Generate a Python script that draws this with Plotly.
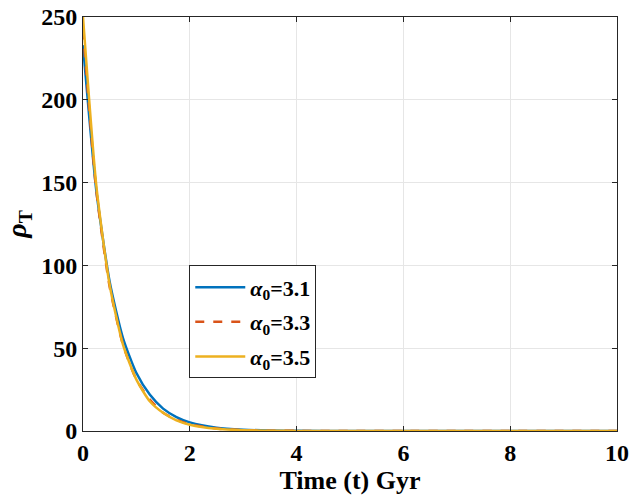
import plotly.graph_objects as go

# Total density rho_T versus cosmic time for three alpha_0 values
t = [0, 0.25, 0.5, 0.75, 1.0, 1.25, 1.5, 1.75, 2.0, 2.5, 3.0, 3.5, 4.0, 5.0, 6.0, 7.0, 8.0, 9.0, 10.0]
rho_a31 = [233, 145, 90, 56, 35, 22, 13.5, 8.4, 5.2, 2.0, 0.8, 0.3, 0.1, 0.02, 0, 0, 0, 0, 0]
rho_a33 = [242, 145, 87, 52, 31, 19, 11, 6.8, 4.0, 1.5, 0.5, 0.2, 0.07, 0.01, 0, 0, 0, 0, 0]
rho_a35 = [250, 148, 88, 52, 31, 18, 11, 6.4, 3.8, 1.3, 0.5, 0.2, 0.06, 0.01, 0, 0, 0, 0, 0]
labels = ["3.1", "3.3", "3.5"]

FONT = "Liberation Serif"
series = [
    (rho_a31, "#0072BD", "solid"),
    (rho_a33, "#D95319", "dash"),
    (rho_a35, "#EDB120", "solid"),
]

fig = go.Figure()
for i, ((y, color, dash), lab) in enumerate(zip(series, labels)):
    fig.add_trace(go.Scatter(
        x=t, y=y, mode="lines",
        line=dict(color=color, width=2.5, dash=dash, shape="spline", smoothing=0.6),
        name=f"<b><i>α</i><sub>0</sub>={lab}</b>",
        legendgroup=f"g{i}",
    ))

axis_common = dict(
    showline=True, linecolor="#262626", linewidth=1,
    mirror="ticks", ticks="inside", ticklen=5, tickcolor="#262626",
    showgrid=True, gridcolor="#E6E6E6", gridwidth=1,
    zeroline=False, automargin=False,
    tickfont=dict(family=FONT, size=24, color="black"),
)

fig.update_layout(
    width=629, height=497,
    margin=dict(l=83, r=12, t=17, b=66),
    paper_bgcolor="white", plot_bgcolor="white",
    font=dict(family=FONT, color="black"),
    xaxis=dict(
        range=[0, 10], tickvals=[0, 2, 4, 6, 8, 10],
        ticktext=[f"<b>{v}</b>" for v in [0, 2, 4, 6, 8, 10]],
        title=dict(text="<b>Time (t) Gyr</b>", font=dict(family=FONT, size=26), standoff=0),
        **axis_common,
    ),
    yaxis=dict(
        range=[0, 250], tickvals=[0, 50, 100, 150, 200, 250],
        ticktext=[f"<b>{v}</b>" for v in [0, 50, 100, 150, 200, 250]],
        title=dict(text="<b><i>ρ</i><sub>T</sub></b>", font=dict(family=FONT, size=28), standoff=6),
        **axis_common,
    ),
    legend=dict(
        x=0.199, y=0.40, xanchor="left", yanchor="top",
        bgcolor="white", bordercolor="#262626", borderwidth=1,
        font=dict(family=FONT, size=22, color="black"),
        tracegroupgap=3, itemwidth=50,
    ),
    showlegend=True,
)

fig.write_html("out.html")
